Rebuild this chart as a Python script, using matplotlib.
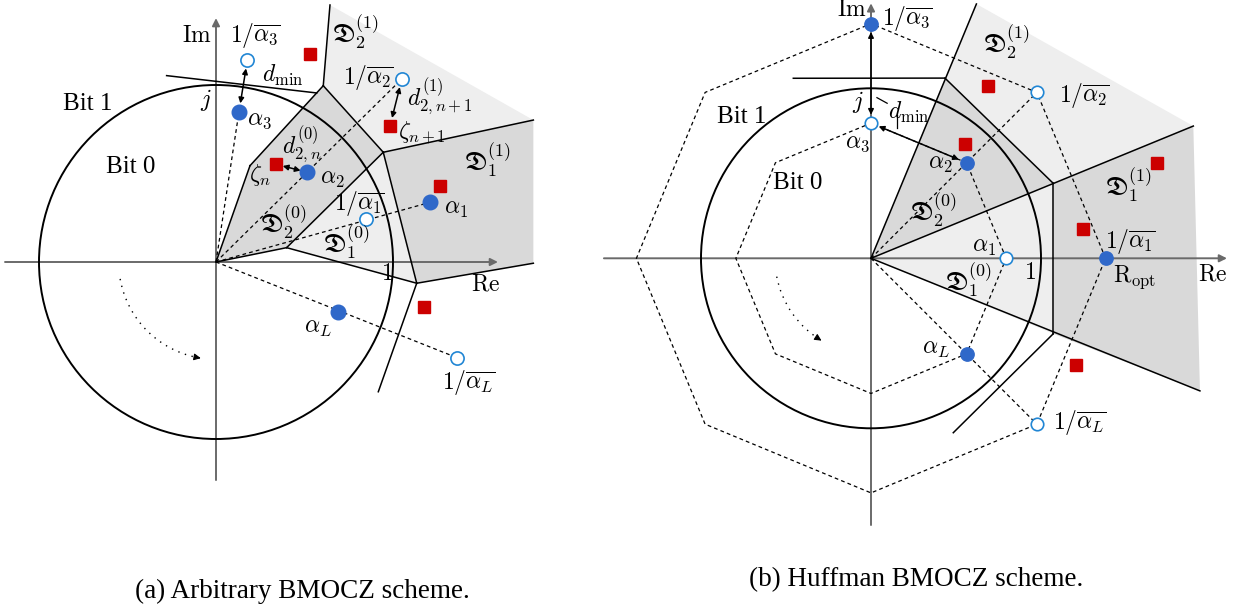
import numpy as np
import matplotlib
matplotlib.use("Agg")
import matplotlib.pyplot as plt
from matplotlib.patches import Polygon, Circle, Arc

plt.rcParams['mathtext.fontset'] = 'cm'
plt.rcParams['font.family'] = ['Liberation Serif', 'DejaVu Serif']

# ---------------- panel (a): arbitrary BMOCZ ----------------
# chosen zeros alpha_1, alpha_2, alpha_3, alpha_L and their conjugate reciprocals
zeros_a_x = [1.209, 0.516, 0.130, 0.687]
zeros_a_y = [0.337, 0.507, 0.850, -0.281]
recip_a_x = [0.847, 1.050, 0.177, 1.360]
recip_a_y = [0.241, 1.034, 1.140, -0.540]
# received zeros zeta
zeta_a_x = [0.531, 0.339, 0.983, 1.266, 1.175]
zeta_a_y = [1.175, 0.552, 0.768, 0.431, -0.252]
# decision-region vertices
reg_a_O = (0.0, 0.0)
reg_a_P1 = (0.192, 0.544)
reg_a_P2 = (0.606, 0.996)
reg_a_P3 = (0.945, 0.620)
reg_a_P4 = (0.399, 0.081)
reg_a_P5 = (0.644, 1.452)
reg_a_P6 = (1.793, 0.802)
reg_a_P7 = (1.134, -0.120)
reg_a_P8 = (1.793, -0.007)
reg_a_P9 = (0.917, -0.733)
reg_a_L1 = (-0.279, 1.053)
reg_a_L2 = (0.569, 0.955)

# ---------------- panel (b): Huffman BMOCZ ----------------
oct_deg = [0, 45, 90, 135, 180, 225, 270, 315]
r_inner = 0.795
r_outer = 1.38          # R_opt
filled_b_r = [r_outer, r_inner, r_outer, r_inner]   # 1/a1, a2, 1/a3, aL
filled_b_deg = [0, 45, 90, 315]
open_b_r = [r_inner, r_outer, r_inner, r_outer]     # a1, 1/a2, a3, 1/aL
open_b_deg = [0, 45, 90, 315]
zeta_b_x = [0.690, 0.553, 1.680, 1.245, 1.206]
zeta_b_y = [1.013, 0.672, 0.562, 0.171, -0.628]
reg_b_A = (0.435, 1.060)
reg_b_B = (1.072, 0.441)
reg_b_C = (1.072, -0.444)
reg_b_T = (0.620, 1.496)
reg_b_R1 = (1.896, 0.778)
reg_b_R2 = (1.935, -0.780)
reg_b_H = (-0.457, 1.059)
reg_b_L = (0.484, -1.026)

DARK = '#d9d9d9'
LIGHT = '#eeeeee'
BLUE = '#2f68c9'
OPEN_EDGE = '#2186d4'
RED = '#cc0000'
AXIS = '#6a6a6a'
MATH = 17
FRAK = 18.5

fig = plt.figure(figsize=(12.39, 6.07), dpi=100)
ax_a = fig.add_axes([0, 0, 575 / 1239, 1])
ax_b = fig.add_axes([590 / 1239, 0, 649 / 1239, 1])
ax_a.set_xlim(-216 / 177, (575 - 216) / 177)
ax_a.set_ylim((262 - 607) / 177, 262 / 177)
ax_b.set_xlim((590 - 871) / 170, (1239 - 871) / 170)
ax_b.set_ylim((258.3 - 607) / 170, 258.3 / 170)
for ax in (ax_a, ax_b):
    ax.set_axis_off()


def fill(ax, pts, color):
    ax.add_patch(Polygon(pts, closed=True, facecolor=color, edgecolor='none', zorder=0))


def seg(ax, p, q, **kw):
    style = dict(color='k', lw=1.1, zorder=2)
    style.update(kw)
    ax.plot([p[0], q[0]], [p[1], q[1]], **style)


def axis_arrow(ax, p, q):
    ax.annotate('', xy=q, xytext=p,
                arrowprops=dict(arrowstyle='-|>', color=AXIS, lw=1.4,
                                shrinkA=0, shrinkB=0, mutation_scale=11),
                zorder=1)


def dbl_arrow(ax, p, q, shrink=6):
    ax.annotate('', xy=q, xytext=p,
                arrowprops=dict(arrowstyle='<|-|>', color='k', lw=1.1,
                                shrinkA=shrink, shrinkB=shrink, mutation_scale=8),
                zorder=4)


def rotation_hint(ax, r, a0, a1):
    ax.add_patch(Arc((0, 0), 2 * r, 2 * r, theta1=a0, theta2=a1,
                     color='k', lw=1.0, ls=(0, (1, 4)), zorder=2))
    e0 = np.radians(a1 - 3)
    e1 = np.radians(a1)
    ax.annotate('', xy=(r * np.cos(e1), r * np.sin(e1)),
                xytext=(r * np.cos(e0), r * np.sin(e0)),
                arrowprops=dict(arrowstyle='-|>', color='k', lw=0.8,
                                shrinkA=0, shrinkB=0, mutation_scale=10))


def label(ax, xy, s, size=MATH, **kw):
    opts = dict(ha='center', va='center', fontsize=size, zorder=6)
    opts.update(kw)
    ax.text(xy[0], xy[1], s, **opts)


# ======================= panel (a) =======================
ax = ax_a
fill(ax, [reg_a_O, reg_a_P1, reg_a_P2, reg_a_P3, reg_a_P4], DARK)
fill(ax, [reg_a_P2, reg_a_P5, reg_a_P6, reg_a_P3], LIGHT)
fill(ax, [reg_a_P3, reg_a_P6, reg_a_P8, reg_a_P7], DARK)
fill(ax, [reg_a_P4, reg_a_P3, reg_a_P7], LIGHT)

axis_arrow(ax, (-1.192, 0), (1.593, 0))
axis_arrow(ax, (0, -1.232), (0, 1.378))
ax.add_patch(Circle((0, 0), 1.0, fill=False, color='k', lw=1.4, zorder=2))

for p, q in [(reg_a_O, reg_a_P1), (reg_a_P1, reg_a_P2), (reg_a_P2, reg_a_P3),
             (reg_a_P3, reg_a_P4), (reg_a_P4, reg_a_O), (reg_a_P2, reg_a_P5),
             (reg_a_P3, reg_a_P6), (reg_a_P3, reg_a_P7), (reg_a_P4, reg_a_P7),
             (reg_a_P7, reg_a_P8), (reg_a_P7, reg_a_P9), (reg_a_L1, reg_a_L2)]:
    seg(ax, p, q)

# dashed rays from the origin
ray_ends_a = [(zeros_a_x[0], zeros_a_y[0]), (recip_a_x[1], recip_a_y[1]),
              (zeros_a_x[2], zeros_a_y[2]), (recip_a_x[3], recip_a_y[3])]
for e in ray_ends_a:
    seg(ax, (0, 0), e, lw=0.9, ls=(0, (3, 2.5)), zorder=2)

rotation_hint(ax, 0.55, 190, 261)

ax.plot(zeros_a_x, zeros_a_y, 'o', ms=10.5, color=BLUE, mec=BLUE, zorder=5)
ax.plot(recip_a_x, recip_a_y, 'o', ms=9.5, mfc='white', mec=OPEN_EDGE, mew=1.2, zorder=5)
ax.plot(zeta_a_x, zeta_a_y, 's', ms=8.6, color=RED, mec=RED, zorder=5)

dbl_arrow(ax, (recip_a_x[2], recip_a_y[2]), (zeros_a_x[2], zeros_a_y[2]))
dbl_arrow(ax, (recip_a_x[1], recip_a_y[1]), (zeta_a_x[2], zeta_a_y[2]))
dbl_arrow(ax, (zeta_a_x[1], zeta_a_y[1]), (zeros_a_x[1], zeros_a_y[1]), shrink=5)

label(ax, (-0.109, 1.273), r'$\mathrm{Im}$')
label(ax, (1.525, -0.13), r'$\mathrm{Re}$')
label(ax, (0.964, -0.073), r'$1$')
label(ax, (-0.056, 0.915), r'$j$')
label(ax, (-0.723, 0.893), 'Bit 1', size=18)
label(ax, (-0.48, 0.537), 'Bit 0', size=18)
label(ax, (0.22, 1.282), r'$1/\overline{\alpha_3}$')
label(ax, (0.375, 1.056), r'$d_{\min}$')
label(ax, (0.245, 0.802), r'$\alpha_3$')
label(ax, (0.79, 1.30), r'$\mathfrak{D}_2^{(1)}$', size=FRAK)
label(ax, (0.859, 1.045), r'$1/\overline{\alpha_2}$')
label(ax, (1.265, 0.935), r'$d_{2,n+1}^{(1)}$')
label(ax, (1.165, 0.73), r'$\zeta_{n+1}$')
label(ax, (0.486, 0.665), r'$d_{2,n}^{(0)}$')
label(ax, (0.249, 0.49), r'$\zeta_n$')
label(ax, (0.655, 0.468), r'$\alpha_2$')
label(ax, (1.531, 0.576), r'$\mathfrak{D}_1^{(1)}$', size=FRAK)
label(ax, (0.808, 0.33), r'$1/\overline{\alpha_1}$')
label(ax, (1.355, 0.299), r'$\alpha_1$')
label(ax, (0.379, 0.226), r'$\mathfrak{D}_2^{(0)}$', size=FRAK)
label(ax, (0.734, 0.113), r'$\mathfrak{D}_1^{(0)}$', size=FRAK)
label(ax, (0.576, -0.373), r'$\alpha_L$')
label(ax, (1.429, -0.678), r'$1/\overline{\alpha_L}$')

# ======================= panel (b) =======================
ax = ax_b
O = (0.0, 0.0)
fill(ax, [O, reg_b_A, reg_b_B], DARK)
fill(ax, [reg_b_A, reg_b_T, reg_b_R1, reg_b_B], LIGHT)
fill(ax, [reg_b_B, reg_b_R1, reg_b_R2, reg_b_C], DARK)
fill(ax, [O, reg_b_B, reg_b_C], LIGHT)

axis_arrow(ax, (-1.571, 0), (2.094, 0))
axis_arrow(ax, (0, -1.569), (0, 1.50))
ax.add_patch(Circle((0, 0), 1.0, fill=False, color='k', lw=1.4, zorder=2))

for p, q in [(O, reg_b_T), (O, reg_b_R1), (O, reg_b_R2), (reg_b_A, reg_b_B),
             (reg_b_H, reg_b_A), (reg_b_B, reg_b_C), (reg_b_C, reg_b_L)]:
    seg(ax, p, q)

th = np.radians(oct_deg + [oct_deg[0]])
for r in (r_inner, r_outer):
    ax.plot(r * np.cos(th), r * np.sin(th), color='k', lw=0.9,
            ls=(0, (3, 2.5)), zorder=2)
for d in (45, 315):
    t = np.radians(d)
    seg(ax, O, (r_outer * np.cos(t), r_outer * np.sin(t)),
        lw=0.9, ls=(0, (3, 2.5)), zorder=2)

rotation_hint(ax, 0.565, 191, 239)

fb = np.radians(filled_b_deg)
ob = np.radians(open_b_deg)
fx = np.array(filled_b_r) * np.cos(fb)
fy = np.array(filled_b_r) * np.sin(fb)
ox = np.array(open_b_r) * np.cos(ob)
oy = np.array(open_b_r) * np.sin(ob)
ax.plot(fx, fy, 'o', ms=9.6, color=BLUE, mec=BLUE, zorder=5)
ax.plot(ox, oy, 'o', ms=9.0, mfc='white', mec=OPEN_EDGE, mew=1.2, zorder=5)
ax.plot(zeta_b_x, zeta_b_y, 's', ms=8.3, color=RED, mec=RED, zorder=5)

dbl_arrow(ax, (fx[2], fy[2]), (ox[2], oy[2]))
dbl_arrow(ax, (ox[2], oy[2]), (fx[1], fy[1]))
seg(ax, (0.035, 0.945), (0.095, 0.912), lw=0.9)
seg(ax, (0.155, 0.845), (0.155, 0.765), lw=0.9)

label(ax, (-0.112, 1.455), r'$\mathrm{Im}$')
label(ax, (0.062, 1.413), r'$1/\overline{\alpha_3}$', ha='left')
label(ax, (0.795, 1.272), r'$\mathfrak{D}_2^{(1)}$', size=FRAK)
label(ax, (1.108, 0.96), r'$1/\overline{\alpha_2}$', ha='left')
label(ax, (-0.076, 0.919), r'$j$')
label(ax, (0.225, 0.86), r'$d_{\min}$')
label(ax, (-0.082, 0.675), r'$\alpha_3$')
label(ax, (-0.759, 0.831), 'Bit 1', size=18)
label(ax, (-0.429, 0.443), 'Bit 0', size=18)
label(ax, (0.41, 0.55), r'$\alpha_2$')
label(ax, (0.365, 0.284), r'$\mathfrak{D}_2^{(0)}$', size=FRAK)
label(ax, (1.515, 0.431), r'$\mathfrak{D}_1^{(1)}$', size=FRAK)
label(ax, (0.665, 0.066), r'$\alpha_1$')
label(ax, (1.525, 0.096), r'$1/\overline{\alpha_1}$')
label(ax, (1.55, -0.11), r'$\mathrm{R}_{\mathrm{opt}}$')
label(ax, (2.012, -0.098), r'$\mathrm{Re}$')
label(ax, (0.935, -0.087), r'$1$')
label(ax, (0.57, -0.128), r'$\mathfrak{D}_1^{(0)}$', size=FRAK)
label(ax, (0.382, -0.534), r'$\alpha_L$')
label(ax, (1.225, -0.966), r'$1/\overline{\alpha_L}$')

fig.text(302 / 1239, 1 - 591 / 607, '(a) Arbitrary BMOCZ scheme.',
         ha='center', va='center', fontsize=19.5)
fig.text(916 / 1239, 1 - 580 / 607, '(b) Huffman BMOCZ scheme.',
         ha='center', va='center', fontsize=19.5)

fig.savefig('out.png', dpi=100)
